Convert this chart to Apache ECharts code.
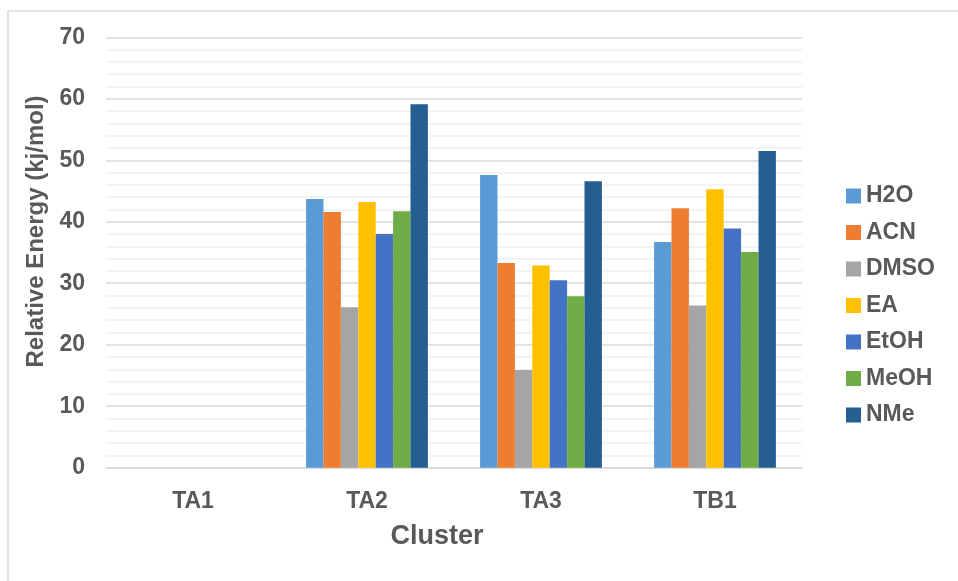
<!DOCTYPE html>
<html>
<head>
<meta charset="utf-8">
<script src="https://cdn.jsdelivr.net/npm/echarts@6/dist/echarts.min.js"></script>
<style>
  html, body { margin: 0; padding: 0; background: #fff; }
  #chart { width: 958px; height: 581px; }
</style>
</head>
<body>
<div id="chart"></div>
<script>
// data
const clusters = ['TA1', 'TA2', 'TA3', 'TB1']
const solvents = ['H2O', 'ACN', 'DMSO', 'EA', 'EtOH', 'MeOH', 'NMe']
const h2o  = [0, 43.7, 47.6, 36.7]
const acn  = [0, 41.6, 33.3, 42.2]
const dmso = [0, 26.1, 15.9, 26.4]
const ea   = [0, 43.2, 32.9, 45.3]
const etoh = [0, 38.0, 30.5, 38.9]
const meoh = [0, 41.7, 27.9, 35.1]
const nme  = [0, 59.1, 46.6, 51.5]
const yTicks = { min: 0, max: 70, interval: 10 }

const colors = ['#5B9BD5', '#ED7D31', '#A5A5A5', '#FFC000', '#4472C4', '#70AD47', '#255E91']
const values = [h2o, acn, dmso, ea, etoh, meoh, nme]
const textColor = '#595959'
const font = '"Liberation Sans", Arial, sans-serif'

const chart = echarts.init(document.getElementById('chart'))

const series = solvents.map((name, i) => ({
  name,
  type: 'bar',
  data: values[i],
  barGap: '0%',
  barCategoryGap: '30%',
  itemStyle: { color: colors[i] }
}))

const option = {
  animation: false,
  color: colors,
  textStyle: { fontFamily: font },
  graphic: [{
    type: 'rect',
    shape: { x: 8, y: 11, width: 1000, height: 620 },
    style: { fill: 'none', stroke: '#d9d9d9', lineWidth: 1.5 },
    silent: true
  }],
  grid: { left: 106, right: 156, top: 37.3, bottom: 113.3 },
  legend: {
    data: solvents,
    orient: 'vertical',
    left: 846,
    top: 184.5,
    padding: 0,
    itemWidth: 15,
    itemHeight: 15,
    itemGap: 13.5,
    icon: 'rect',
    selectedMode: false,
    textStyle: { color: textColor, fontSize: 23, fontWeight: 'bold', fontFamily: font, lineHeight: 22, padding: [0, 0, 0, 0] }
  },
  xAxis: {
    type: 'category',
    data: clusters,
    name: 'Cluster',
    nameLocation: 'middle',
    nameGap: 56,
    nameTextStyle: { color: textColor, fontSize: 27, fontWeight: 'bold', fontFamily: font, lineHeight: 26, padding: [0, 34, 0, 0] },
    axisLine: { lineStyle: { color: '#d9d9d9', width: 1.5 } },
    axisTick: { show: false },
    axisLabel: { color: textColor, fontSize: 23, fontWeight: 'bold', fontFamily: font, margin: 22 }
  },
  yAxis: {
    type: 'value',
    min: yTicks.min,
    max: yTicks.max,
    interval: yTicks.interval,
    name: 'Relative Energy (kj/mol)',
    nameLocation: 'middle',
    nameGap: 57,
    nameTextStyle: { color: textColor, fontSize: 24, fontWeight: 'bold', fontFamily: font, lineHeight: 24, padding: [0, 0, 0, 42] },
    axisLine: { show: false },
    axisTick: { show: false },
    axisLabel: { color: textColor, fontSize: 23, fontWeight: 'bold', fontFamily: font, margin: 21 },
    splitLine: { lineStyle: { color: '#d9d9d9', width: 1.5 } },
    minorTick: { show: false, splitNumber: 5 },
    minorSplitLine: { show: true, lineStyle: { color: '#efefef', width: 1.5 } }
  },
  series
}

chart.setOption(option)
</script>
</body>
</html>
